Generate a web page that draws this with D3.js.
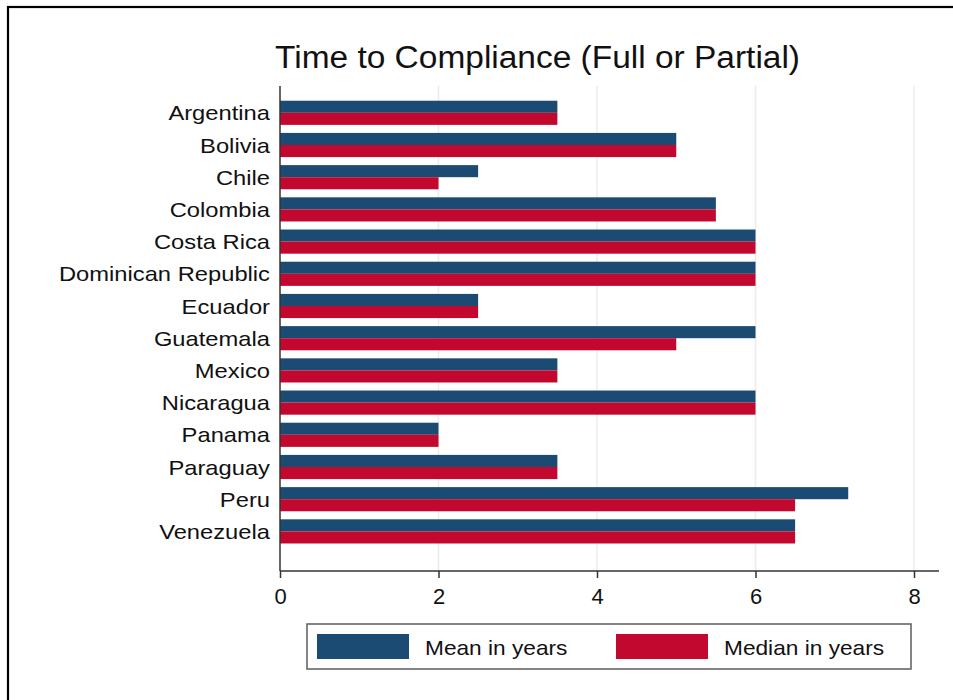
<!DOCTYPE html>
<html><head><meta charset="utf-8">
<script src="https://cdn.jsdelivr.net/npm/d3@7"></script>
<style>body{margin:0;background:#fff}svg{display:block}text{font-family:"Liberation Sans",Arial,Helvetica,sans-serif;fill:#111}</style>
</head><body><svg id="c" width="953" height="700"></svg>
<script>
const countries = ["Argentina","Bolivia","Chile","Colombia","Costa Rica","Dominican Republic","Ecuador","Guatemala","Mexico","Nicaragua","Panama","Paraguay","Peru","Venezuela"];
const meanYears   = [3.5, 5, 2.5, 5.5, 6, 6, 2.5, 6, 3.5, 6, 2, 3.5, 7.17, 6.5];
const medianYears = [3.5, 5, 2,   5.5, 6, 6, 2.5, 5, 3.5, 6, 2, 3.5, 6.5,  6.5];
const seriesNames = ["Mean in years","Median in years"];
const seriesColors = ["#1b4a72","#c3082f"];
const xTicks = [0,2,4,6,8];
const title = "Time to Compliance (Full or Partial)";

const svg = d3.select("#c");
function stretch(sel,k){ sel.each(function(){ const w=this.getComputedTextLength(); d3.select(this).attr("textLength", w*k).attr("lengthAdjust","spacingAndGlyphs"); }); }

// frame
svg.append("rect").attr("x",8).attr("y",7).attr("width",980).attr("height",720).attr("fill","none").attr("stroke","#000").attr("stroke-width",2.2);

const x = d3.scaleLinear().domain([0,8]).range([280,914]);
const y = d3.scaleBand().domain(countries).range([96.7,547.5]).paddingInner(0.25).paddingOuter(0.125);
const ys = d3.scaleBand().domain(seriesNames).range([0,y.bandwidth()]);
const axisY = 571, plotTop = 86;

// gridlines
svg.append("g").selectAll("line").data(xTicks.filter(d=>d>0)).join("line")
  .attr("x1",d=>x(d)).attr("x2",d=>x(d)).attr("y1",plotTop).attr("y2",axisY)
  .attr("stroke","#ececec").attr("stroke-width",1.5);

// bars
const data = countries.map((c,i)=>({c, vals:[meanYears[i], medianYears[i]]}));
const g = svg.append("g").selectAll("g").data(data).join("g").attr("transform",d=>`translate(0,${y(d.c)})`);
g.selectAll("rect").data(d=>d.vals.map((v,j)=>({v,s:seriesNames[j],j}))).join("rect")
  .attr("x",x(0)).attr("y",d=>ys(d.s)).attr("height",ys.bandwidth()).attr("width",d=>x(d.v)-x(0))
  .attr("fill",d=>seriesColors[d.j]);

// y axis
svg.append("line").attr("x1",x(0)).attr("x2",x(0)).attr("y1",plotTop).attr("y2",axisY).attr("stroke","#333").attr("stroke-width",1.5);
const ly = svg.append("g").selectAll("text").data(countries).join("text")
  .attr("x",270).attr("y",d=>y(d)+y.bandwidth()/2+7.5).attr("text-anchor","end").attr("font-size",21).text(d=>d);
stretch(ly,1.13);

// x axis
const xa = svg.append("g").attr("transform",`translate(0,${axisY})`).call(d3.axisBottom(x).tickValues(xTicks).tickSize(7).tickPadding(10).tickFormat(d3.format("d")));
xa.select(".domain").attr("d",`M${x(0)},0H939`).attr("stroke","#333").attr("stroke-width",1.5);
xa.selectAll(".tick line").attr("stroke","#333").attr("stroke-width",1.5);
xa.selectAll("text").attr("font-size",22).attr("fill","#111").attr("dy","0.71em").attr("font-family",'"Liberation Sans",Arial,sans-serif');

// title
const t = svg.append("text").attr("x",275).attr("y",68).attr("font-size",31).text(title);
t.attr("textLength",525).attr("lengthAdjust","spacingAndGlyphs");

// legend
svg.append("rect").attr("x",307).attr("y",624).attr("width",604).attr("height",45).attr("fill","#fff").attr("stroke","#666").attr("stroke-width",1.6);
const legX = [317, 616];
const lg = svg.append("g").selectAll("g").data(seriesNames).join("g").attr("transform",(d,i)=>`translate(${legX[i]},634)`);
lg.append("rect").attr("width",92).attr("height",25).attr("fill",(d,i)=>seriesColors[i]);
const lt = lg.append("text").attr("x",108).attr("y",21).attr("font-size",21).text(d=>d);
stretch(lt,1.08);
</script></body></html>
